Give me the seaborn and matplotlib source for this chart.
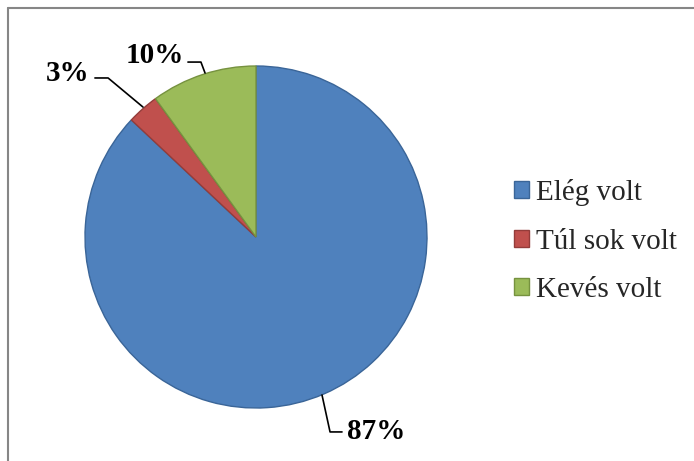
import matplotlib
matplotlib.use("Agg")
import matplotlib.pyplot as plt
import seaborn as sns
from matplotlib.lines import Line2D

categories = ["Elég volt", "Túl sok volt", "Kevés volt"]
values = [87, 3, 10]
labels = ["87%", "3%", "10%"]
colors = ["#4F81BD", "#C0504D", "#9BBB59"]
edges = ["#3A6598", "#943C3A", "#76923F"]

sns.set_theme(style="white")
plt.rcParams['font.family'] = ['Liberation Serif', 'DejaVu Serif']

fig = plt.figure(figsize=(6.94, 4.61), dpi=100)
ax = fig.add_axes([85/694, (461-408)/461, 342/694, 342/461])

wedges, _ = ax.pie(values, colors=colors, startangle=90, counterclock=False,
                   radius=1.0, wedgeprops=dict(linewidth=1.0))
for w, e in zip(wedges, edges):
    w.set_edgecolor(e)
ax.set_xlim(-1, 1)
ax.set_ylim(-1, 1)
ax.set_aspect('equal')
ax.axis('off')

# label positions (data units) and leader lines
label_pos = [(0.70, -1.14), (-1.10, 0.955), (-0.59, 1.06)]
leaders = [
    [(0.386, -0.924), (0.433, -1.14), (0.503, -1.14)],
    [(-0.661, 0.760), (-0.865, 0.930), (-0.942, 0.930)],
    [(-0.298, 0.959), (-0.322, 1.023), (-0.398, 1.023)],
]
for lab, (x, y), pts in zip(labels, label_pos, leaders):
    ax.text(x, y, lab, ha='center', va='center', fontsize=21, fontweight='bold',
            color='black', clip_on=False)
    xs = [p[0] for p in pts]
    ys = [p[1] for p in pts]
    ax.add_line(Line2D(xs, ys, color='black', linewidth=1.2, clip_on=False))

leg = fig.legend(wedges, categories, loc='center left',
                 bbox_to_anchor=(499/694, (461-241)/461),
                 frameon=False, fontsize=21, borderpad=0,
                 handlelength=0.52, handleheight=0.52,
                 handletextpad=0.26, labelspacing=0.78)

# border lines (left and top)
fig.add_artist(Line2D([8/694, 1.0], [1-8/461, 1-8/461], transform=fig.transFigure,
                      color='#868686', linewidth=1.5))
fig.add_artist(Line2D([8/694, 8/694], [0.0, 1-8/461], transform=fig.transFigure,
                      color='#868686', linewidth=1.5))

fig.savefig("out.png", dpi=100)
